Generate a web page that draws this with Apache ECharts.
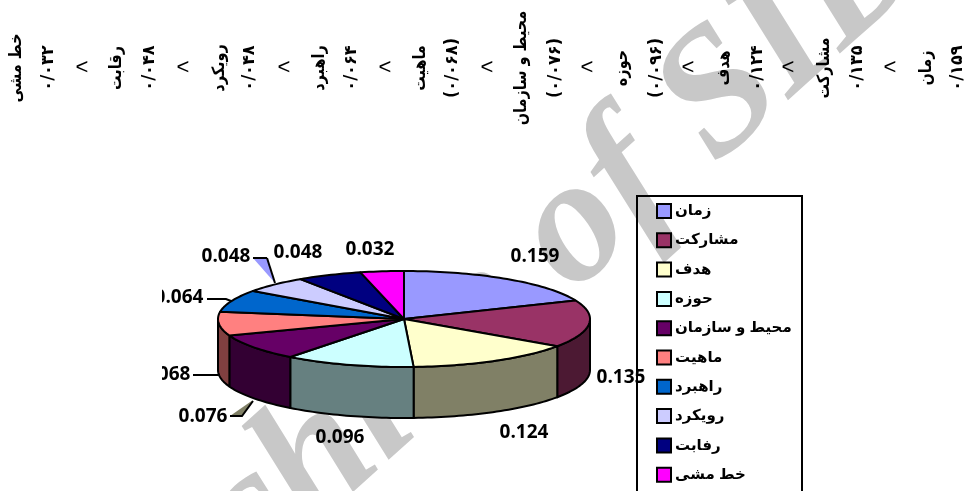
<!DOCTYPE html>
<html>
<head>
<meta charset="utf-8">
<style>
  html, body { margin: 0; padding: 0; background: #fff; }
  #main1 { width: 964px; height: 491px; }
</style>
<script src="https://cdn.jsdelivr.net/npm/echarts@6/dist/echarts.min.js"></script>
</head>
<body>
<div id="main1"></div>
<script>
  // chart data
  const categories = ['زمان', 'مشارکت', 'هدف', 'حوزه', 'محیط و سازمان', 'ماهیت', 'راهبرد', 'رویکرد', 'رفابت', 'خط مشی'];
  const values = [0.159, 0.135, 0.124, 0.096, 0.076, 0.068, 0.064, 0.048, 0.048, 0.032];
  const valueLabels = ['0.159', '0.135', '0.124', '0.096', '0.076', '0.068', '0.064', '0.048', '0.048', '0.032'];
  const topColors = ['#9999FF', '#993366', '#FFFFCC', '#CCFFFF', '#660066', '#FF8080', '#0066CC', '#CCCCFF', '#000080', '#FF00FF'];
  const sideColors = ['#4C4C80', '#4C1933', '#808066', '#668080', '#330033', '#804040', '#003366', '#666680', '#000040', '#800080'];

  // ranking line across the top, left to right
  const rankNames = ['خط مشی', 'رقابت', 'رویکرد', 'راهبرد', 'ماهیت', 'محیط و سازمان', 'حوزه', 'هدف', 'مشارکت', 'زمان'];
  const rankValues = ['۰/۰۳۲', '۰/۰۴۸', '۰/۰۴۸', '۰/۰۶۴', '(۰/۰۶۸)', '(۰/۰۷۶)', '(۰/۰۹۶)', '۰/۱۲۴', '۰/۱۳۵', '۰/۱۵۹'];

  // layout
  const rankNameX = [17, 117, 220, 320, 421, 522, 623, 725, 825, 927];
  const rankValueX = [49, 150, 250, 352, 453, 556, 657, 758, 858, 958];
  const rankSepX = [82, 183, 284, 385, 487, 587, 688, 788, 890];
  const labelPos = [[535, 257], [621, 378], [524, 433], [340, 438], [203, 417], [166, 375], [179, 298], [226, 257], [298, 253], [370, 250]];
  const pie = { cx: 404, cy: 319, rx: 186, ry: 48, depth: 51 };
  const total = values.reduce((a, b) => a + b, 0);

  function pt(t, dy) {
    return [pie.cx + pie.rx * Math.sin(t), pie.cy - pie.ry * Math.cos(t) + (dy || 0)];
  }
  function arc(a0, a1, dy) {
    let pts = [];
    let n = Math.max(2, Math.ceil((a1 - a0) * 40));
    for (let i = 0; i <= n; i++) {
      pts.push(pt(a0 + (a1 - a0) * i / n, dy));
    }
    return pts;
  }
  const lineStyle = { stroke: '#000', lineWidth: 2, lineJoin: 'round' };

  function renderSlice(params) {
    let i = params.seriesIndex;
    let before = values.slice(0, i).reduce((a, b) => a + b, 0);
    let a0 = before / total * Math.PI * 2;
    let a1 = (before + values[i]) / total * Math.PI * 2;
    let children = [];
    // wall, only the front half shows
    let s0 = Math.max(a0, Math.PI / 2);
    let s1 = Math.min(a1, Math.PI * 3 / 2);
    if (s1 > s0) {
      children.push({
        type: 'polygon',
        shape: { points: arc(s0, s1, 0).concat(arc(s0, s1, pie.depth).reverse()) },
        style: Object.assign({ fill: sideColors[i] }, lineStyle)
      });
    }
    children.push({
      type: 'polygon',
      shape: { points: [[pie.cx, pie.cy]].concat(arc(a0, a1, 0)) },
      style: Object.assign({ fill: topColors[i] }, lineStyle)
    });
    children.push({
      type: 'text',
      z2: 20,
      style: {
        x: labelPos[i][0], y: labelPos[i][1], text: valueLabels[i],
        fill: '#000', font: 'bold 19px "Open Sans"', align: 'center', verticalAlign: 'middle'
      }
    });
    return { type: 'group', children: children };
  }

  let graphics = [];
  // watermark, behind everything
  graphics.push({
    type: 'text', z: 0, x: 494, y: 303, rotation: Math.PI * 42 / 180,
    style: { text: 'Archive of SID', fill: '#c8c8c8', font: 'italic bold 178px "Liberation Serif"', align: 'center', verticalAlign: 'middle' }
  });
  const rankFont = 'bold 17px "DejaVu Sans"';
  rankNames.forEach(function (name, i) {
    graphics.push({ type: 'text', z: 5, x: rankNameX[i], y: 68, rotation: Math.PI / 2, scaleX: 0.85,
      style: { text: name, fill: '#000', font: rankFont, align: 'center', verticalAlign: 'middle' } });
    graphics.push({ type: 'text', z: 5, x: rankValueX[i], y: 68, rotation: Math.PI / 2, scaleX: 0.95,
      style: { text: rankValues[i], fill: '#000', font: rankFont, align: 'center', verticalAlign: 'middle' } });
  });
  rankSepX.forEach(function (x) {
    graphics.push({ type: 'text', z: 5, x: x, y: 68,
      style: { text: '<', fill: '#000', font: '22px "Liberation Sans"', align: 'center', verticalAlign: 'middle' } });
  });
  // leader lines
  graphics.push({ type: 'polygon', z: 1, shape: { points: [[253, 258], [267, 258], [275, 283]] }, style: { fill: '#9999FF', stroke: 'none' } });
  graphics.push({ type: 'polyline', z: 5, shape: { points: [[267, 258], [275, 283]] }, style: { stroke: '#000', lineWidth: 2, fill: 'none' } });
  graphics.push({ type: 'line', z: 5, shape: { x1: 253, y1: 258, x2: 267, y2: 258 }, style: { stroke: '#000', lineWidth: 2 } });
  graphics.push({ type: 'polyline', z: 5, shape: { points: [[207, 299], [226, 299], [231, 301]] }, style: { stroke: '#000', lineWidth: 2, fill: 'none' } });
  graphics.push({ type: 'line', z: 5, shape: { x1: 193, y1: 375, x2: 219, y2: 375 }, style: { stroke: '#000', lineWidth: 2 } });
  graphics.push({ type: 'polygon', z: 1, shape: { points: [[230, 416], [242, 416], [253, 400]] }, style: { fill: '#808066', stroke: 'none' } });
  graphics.push({ type: 'polyline', z: 5, shape: { points: [[230, 416], [242, 416], [253, 401]] }, style: { stroke: '#000', lineWidth: 2, fill: 'none' } });
  // the original picture cuts the two leftmost labels off
  graphics.push({ type: 'rect', z: 30, shape: { x: 100, y: 285, width: 62, height: 105 }, style: { fill: '#fff' } });
  // legend frame
  graphics.push({ type: 'rect', z: 4, shape: { x: 637, y: 196, width: 165, height: 310 }, style: { fill: 'none', stroke: '#000', lineWidth: 2 } });

  let myChart = echarts.init(document.getElementById('main1'));
  let option = {
    animation: false,
    backgroundColor: '#fff',
    legend: {
      data: categories,
      orient: 'vertical',
      left: 656,
      top: 203,
      padding: 0,
      itemWidth: 14,
      itemHeight: 14,
      itemGap: 13.3,
      icon: 'rect',
      selectedMode: false,
      itemStyle: { borderColor: '#000', borderWidth: 2 },
      textStyle: { color: '#000', fontFamily: '"Liberation Sans", "DejaVu Sans"', fontWeight: 'bold', fontSize: 15, padding: [0, 0, 0, -1] }
    },
    graphic: graphics,
    series: categories.map(function (name, i) {
      return {
        type: 'custom',
        name: name,
        coordinateSystem: 'none',
        silent: true,
        z: 3,
        itemStyle: { color: topColors[i] },
        renderItem: renderSlice,
        data: [[values[i]]]
      };
    })
  };
  myChart.setOption(option);
</script>
</body>
</html>
